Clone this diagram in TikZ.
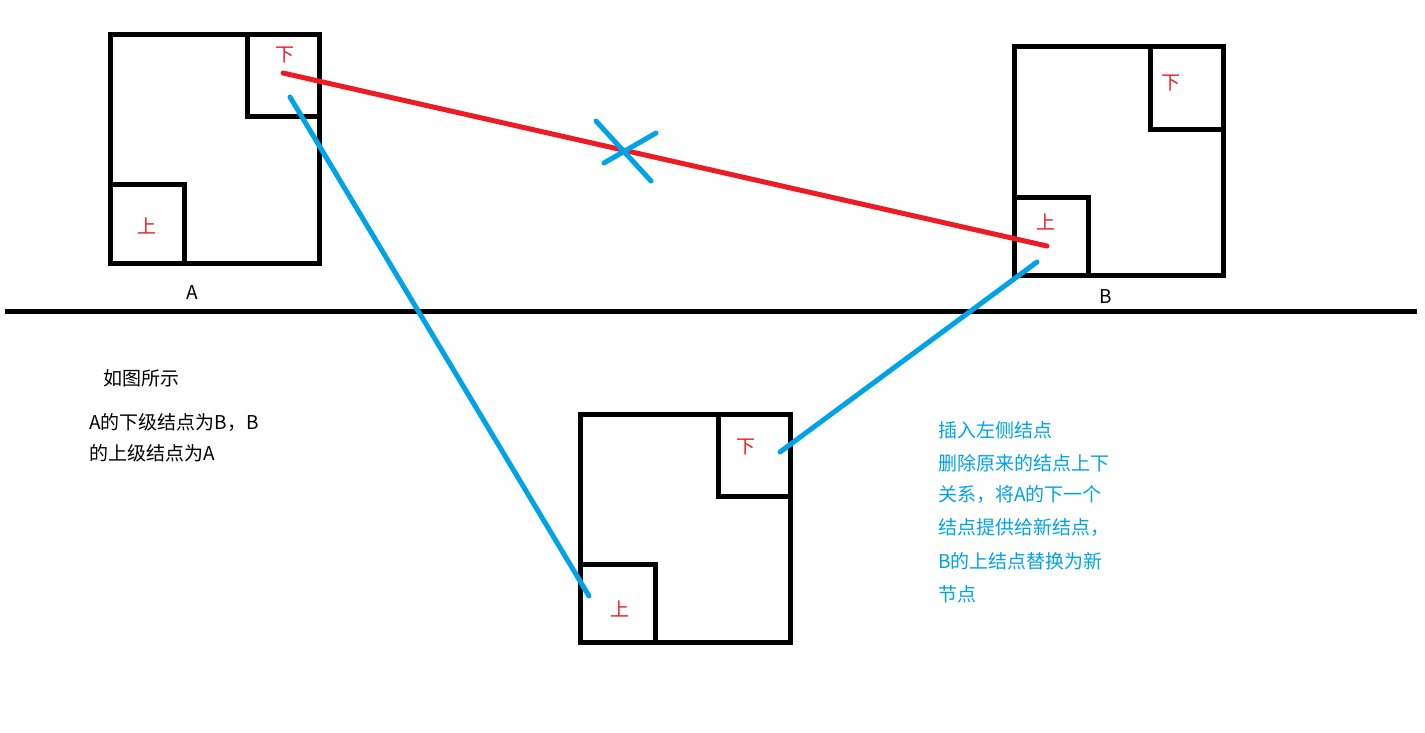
\documentclass[tikz,border=0pt]{standalone}
\usepackage{fontspec}
\newfontfamily\cjk{Noto Sans CJK SC}
\definecolor{pblue}{HTML}{00A2E8}
\definecolor{pred}{HTML}{ED1C24}
\begin{document}
\begin{tikzpicture}[x=1pt,y=-1pt,
  box/.style={draw=black,line width=5pt,rectangle,inner sep=0pt,outer sep=0pt,anchor=north west},
  lbl/.style={inner sep=0pt,font=\cjk\fontsize{19}{22}\selectfont},
  redlbl/.style={lbl,text=pred},
  txt/.style={inner sep=0pt,anchor=west,font=\cjk\fontsize{19}{22}\selectfont},
  redline/.style={draw=pred,line width=5pt,line cap=round},
  blueline/.style={draw=pblue,line width=5pt,line cap=round}]
\useasboundingbox (0,0) rectangle (1425,732);
% Box A
\node[box,minimum width=209pt,minimum height=229pt] (A) at (110,34.5) {};
\node[box,minimum width=72pt,minimum height=82pt] (Ad) at (247,34.5) {};
\node[box,minimum width=74pt,minimum height=79pt] (Au) at (110,184.5) {};
\node[redlbl] (Adt) at (285,55) {下};
\node[redlbl] (Aut) at (147,226) {上};
\node[lbl] (Al) at (192,293) {A};
% Box B
\node[box,minimum width=209pt,minimum height=228.5pt] (B) at (1014,46.5) {};
\node[box,minimum width=72.5pt,minimum height=82.5pt] (Bd) at (1150.5,46.5) {};
\node[box,minimum width=74pt,minimum height=77.5pt] (Bu) at (1014,197.5) {};
\node[redlbl] (Bdt) at (1171,83) {下};
\node[redlbl] (But) at (1046,222) {上};
\node[lbl] (Bl) at (1106,297) {B};
% Box C
\node[box,minimum width=209.5pt,minimum height=228.5pt] (C) at (580.5,414) {};
\node[box,minimum width=72pt,minimum height=82.5pt] (Cd) at (718,414) {};
\node[box,minimum width=74.5pt,minimum height=78pt] (Cu) at (580.5,564.5) {};
\node[redlbl] (Cdt) at (746,447) {下};
\node[redlbl] (Cut) at (620,609) {上};
% divider
\coordinate (L0) at (5,311);
\coordinate (L1) at (1417,311);
\draw[line width=5pt] (L0) -- (L1);
% connector end points
\coordinate (r0) at (283,73);
\coordinate (r1) at (1047,246);
\coordinate (b0) at (290,97);
\coordinate (b1) at (589,596);
\coordinate (c0) at (780,452);
\coordinate (c1) at (1037,262);
\draw[redline] (r0) -- (r1);
\draw[blueline] (b0) -- (b1);
\draw[blueline] (c0) -- (c1);
% cross
\coordinate (x1a) at (596,121);
\coordinate (x1b) at (651,181);
\coordinate (x2a) at (656,133);
\coordinate (x2b) at (604,163);
\draw[blueline] (x1a) -- (x1b);
\draw[blueline] (x2a) -- (x2b);
% black text
\node[txt] (t1) at (103,378) {如图所示};
\node[txt] (t2) at (89,422) {A的下级结点为B，B};
\node[txt] (t3) at (89,453) {的上级结点为A};
% blue text
\node[txt,text=pblue] (u1) at (938,430) {插入左侧结点};
\node[txt,text=pblue] (u2) at (938,463) {删除原来的结点上下};
\node[txt,text=pblue] (u3) at (938,494) {关系，将A的下一个};
\node[txt,text=pblue] (u4) at (938,527) {结点提供给新结点，};
\node[txt,text=pblue] (u5) at (938,561) {B的上结点替换为新};
\node[txt,text=pblue] (u6) at (938,594) {节点};
\end{tikzpicture}
\end{document}
